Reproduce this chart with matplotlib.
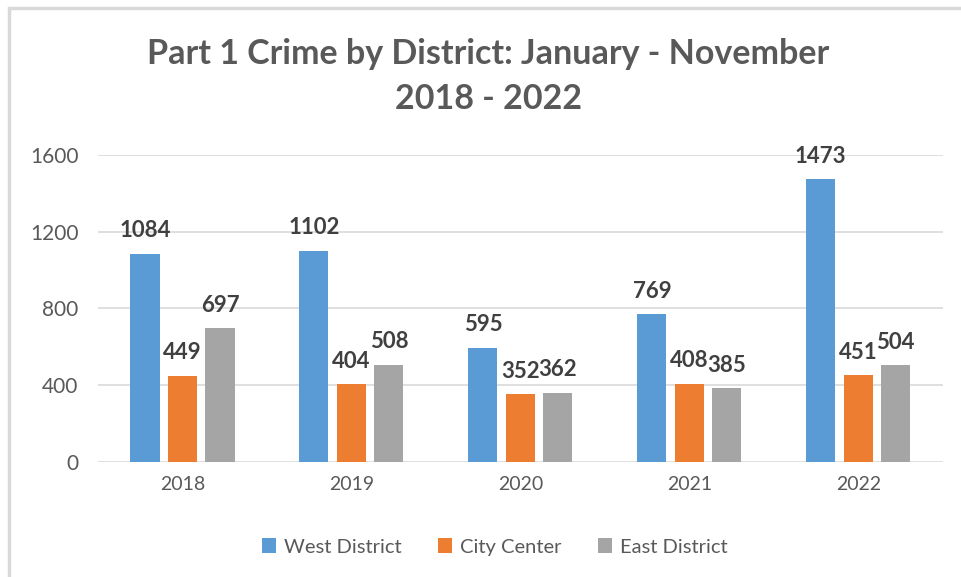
import numpy as np
import matplotlib.pyplot as plt
from matplotlib.patches import Rectangle

plt.rcParams['font.family'] = ['Lato', 'DejaVu Sans']

years = ['2018', '2019', '2020', '2021', '2022']
west = [1084, 1102, 595, 769, 1473]
city = [449, 404, 352, 408, 451]
east = [697, 508, 362, 385, 504]
series_names = ['West District', 'City Center', 'East District']
colors = ['#5B9BD5', '#ED7D31', '#A5A5A5']

fig = plt.figure(figsize=(9.61, 5.77), dpi=100)
ax = fig.add_axes([0.102, 0.1993, 0.879, 0.5321])

# outer chart frame (only top and left edges fall inside the picture)
fig.patches.append(Rectangle((0.0095, -0.05), 1.2, 1.036, transform=fig.transFigure,
                             fill=False, edgecolor='#d9d9d9', linewidth=2.5))

x = np.arange(len(years))
width = 0.172
step = 0.222
for i, (vals, name, c) in enumerate(zip([west, city, east], series_names, colors)):
    pos = x + (i - 1) * step
    bars = ax.bar(pos, vals, width, color=c, label=name, zorder=3)
    for b, v in zip(bars, vals):
        ax.annotate(str(v), (b.get_x() + b.get_width() / 2, v), xytext=(0, 9),
                    textcoords='offset points', ha='center', va='bottom',
                    fontsize=16, fontweight='bold', color='#404040')

ax.set_xlim(-0.5, len(years) - 0.5)
ax.set_ylim(0, 1600)
ax.set_yticks([0, 400, 800, 1200, 1600])
ax.set_xticks(x)
ax.set_xticklabels(years)
ax.tick_params(axis='both', length=0, labelsize=14, colors='#595959')
ax.tick_params(axis='y', labelsize=15, pad=14)
ax.tick_params(axis='x', pad=10)
ax.grid(axis='y', color='#d9d9d9', linewidth=1.2, zorder=0)
for s in ax.spines.values():
    s.set_visible(False)

fig.text(0.508, 0.907, 'Part 1 Crime by District: January - November',
         ha='center', va='center', fontsize=24.5, fontweight='bold', color='#595959')
fig.text(0.508, 0.829, '2018 - 2022', ha='center', va='center',
         fontsize=24.5, fontweight='bold', color='#595959')

fig.legend(loc='center', bbox_to_anchor=(0.515, 0.052), ncol=3, frameon=False,
           fontsize=14.5, handlelength=0.7, handleheight=0.7, handletextpad=0.4,
           columnspacing=1.8, labelcolor='#595959')

fig.savefig('out.png', dpi=100, facecolor='white')
